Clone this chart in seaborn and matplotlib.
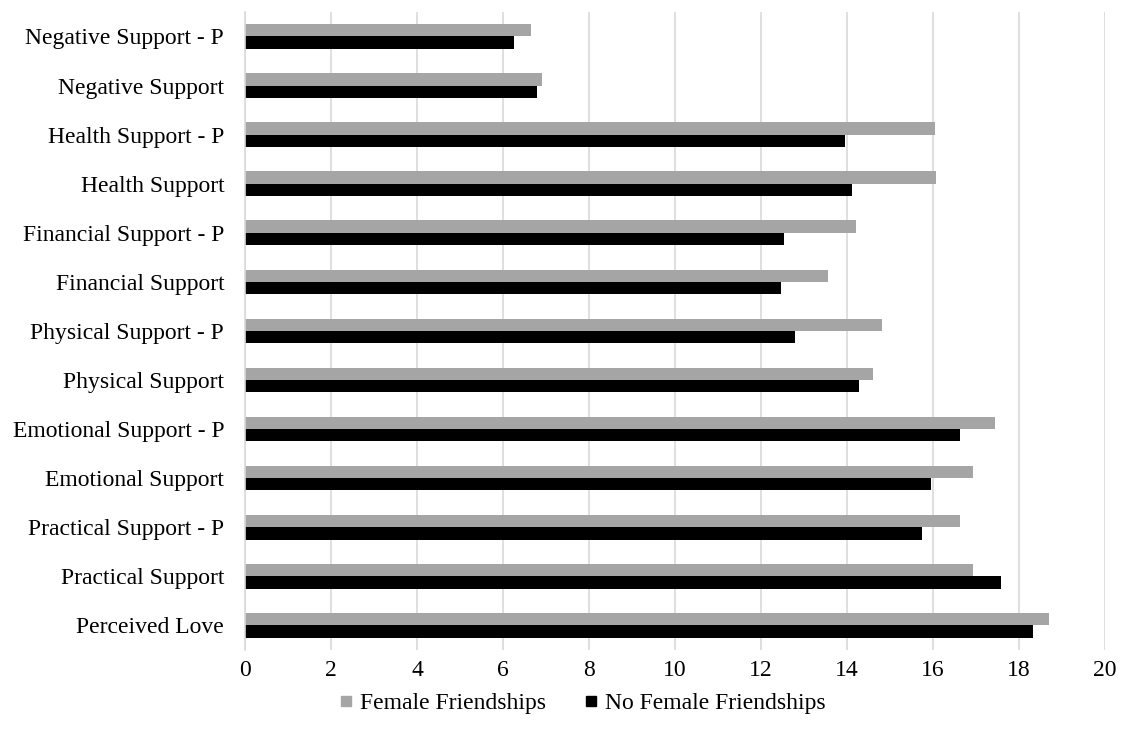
import matplotlib
matplotlib.use("Agg")
import matplotlib.pyplot as plt
from matplotlib.lines import Line2D
import seaborn as sns
import pandas as pd

# Support measures, listed top to bottom
categories = [
    "Negative Support - P",
    "Negative Support",
    "Health Support - P",
    "Health Support",
    "Financial Support - P",
    "Financial Support",
    "Physical Support - P",
    "Physical Support",
    "Emotional Support - P",
    "Emotional Support",
    "Practical Support - P",
    "Practical Support",
    "Perceived Love",
]

female_friendships = [6.65, 6.90, 16.05, 16.08, 14.21, 13.56, 14.81, 14.60,
                      17.45, 16.94, 16.64, 16.94, 18.70]
no_female_friendships = [6.25, 6.78, 13.96, 14.11, 12.53, 12.47, 12.80, 14.27,
                         16.63, 15.95, 15.74, 17.58, 18.33]

series_names = ["Female Friendships", "No Female Friendships"]
series_colors = ["#A5A5A5", "#000000"]
x_ticks = list(range(0, 21, 2))

df = pd.DataFrame({
    "measure": categories * 2,
    "score": female_friendships + no_female_friendships,
    "group": [series_names[0]] * len(categories) + [series_names[1]] * len(categories),
})

sns.set_theme(style="white")
plt.rcParams["font.family"] = ["Liberation Serif", "DejaVu Serif"]

fig = plt.figure(figsize=(11.22, 7.42), dpi=100)
ax = fig.add_axes([0.2184, 0.124, 0.7664, 0.86])

sns.barplot(
    data=df, y="measure", x="score", hue="group",
    order=categories, hue_order=series_names,
    palette=series_colors, orient="h",
    width=0.5, gap=0, saturation=1, ax=ax, legend=False,
    linewidth=0,
)

ax.set_xlim(0, 20)
ax.set_xticks(x_ticks)
ax.set_xticklabels([str(t) for t in x_ticks], fontsize=17)
ax.tick_params(axis="y", labelsize=17, length=0, pad=15, labelcolor="#000000")
ax.tick_params(axis="x", length=0, pad=7, labelcolor="#000000")
ax.set_xlabel("")
ax.set_ylabel("")

ax.xaxis.grid(True, color="#D9D9D9", linewidth=1.2)
ax.set_axisbelow(True)
for side in ["top", "right", "bottom"]:
    ax.spines[side].set_visible(False)
ax.spines["left"].set_color("#D9D9D9")
ax.spines["left"].set_linewidth(1.2)

handles = [
    Line2D([0], [0], marker="s", linestyle="none", markersize=7,
           markerfacecolor=c, markeredgecolor=c)
    for c in series_colors
]
fig.legend(handles, series_names, loc="center", bbox_to_anchor=(0.5116, 0.0525),
           ncol=2, frameon=False, fontsize=17, handletextpad=-0.4,
           columnspacing=0.9, labelcolor="#000000")

fig.savefig("out.png", dpi=100)
